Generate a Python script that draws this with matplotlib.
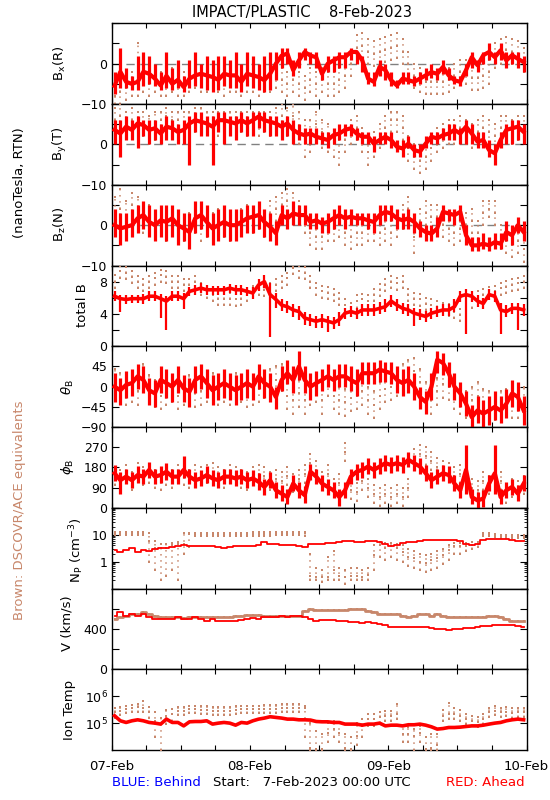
import numpy as np
import matplotlib
matplotlib.use("Agg")
import matplotlib.pyplot as plt
from matplotlib.ticker import FixedLocator, FixedFormatter, MultipleLocator, LogLocator, NullFormatter, NullLocator

# ---------------- data (hourly bins, 07-Feb 00:00 .. 10-Feb 00:00) ----------------
hours = np.arange(72) + 0.5
day_ticks = [0, 24, 48, 72]
day_labels = ["07-Feb", "08-Feb", "09-Feb", "10-Feb"]

# Bx (R)
bx_red = [-5.5,-2,-4.5,-5,-4.5,-2,-2.5,-3.7,-5.4,-3,-5,-4,
          -5.8,-3.7,-2.9,-2.5,-2.9,-3.3,-4,-2.5,-2.9,-2.9,-4.5,-2.5,
          -2.9,-3.3,-4.1,-2.5,0,2,2.5,-1.6,0.8,2.9,2,1.6,
          -2.5,0,0.8,1.6,1.6,2.9,2.9,0.8,-3.7,-4.5,-0.8,-1.6,
          -4.1,-5.4,-3.7,-4.1,-4.5,-3.7,-2.9,-2.1,-2.5,-0.8,-2.9,-4.1,
          -4.5,-1.6,1.6,-0.4,2.1,2.9,1.6,3.3,0.8,2.1,1.2,0.4]
bx_red_hi = [-2,4,-1,-3,2,3,2,0,-2,3,-1,1,
             -3,1,3,0,2,1,2,2,1,3,0,3,
             2,0,2,3,3,4,4,1,3,4,3,3,
             -1,2,2,3,3,4,3,2,-2,-2,1,0,
             -2,-4,-2,-2,-3,-2,-1,0,-1,1,-1,-3,
             -3,0,3,1,3,5,3,5,3,3,3,2]
bx_red_lo = [-7.5,-6,-6,-6.5,-6.5,-5.5,-5,-5.5,-6.5,-6,-6.5,-6,
             -7,-6,-5.5,-6,-6.5,-7,-6.5,-5.5,-6,-6,-7,-5.5,
             -6,-6.5,-7,-6.5,-4,-1,0,-3,-1,1,0,-1,
             -4,-2,-2,-1,-1,1,0,-2,-5,-5.5,-3,-4,
             -5.5,-6,-5,-5,-5.5,-5,-4,-3.5,-4,-2.5,-4,-5,
             -5.5,-3,-1,-2,0,1,0,1,-1,0,-1,-2]
bx_brn = [-8,-7,-6,-5,-5,-4,-5,-4,-5,-5,-4,-5,
          -5,-4,-3,-4,-4,-3,-4,-5,-4,-4,-5,-4,
          -4,-5,-4,-4,-3,-4,-5,-4,-5,-6,-4,-5,
          -4,-5,-5,-4,-3,0,4,4.5,3,2.5,3,3.5,
          4,4.5,3,0,-3,-4,-4.5,-4.5,-4.5,-4.5,-4,-3,
          -2,-2,-3.5,-3.5,-3,-2,2,3,3.5,3,2.5,1]
bx_brn_hi = [-5,-4,-3,-2,5,-1,-2,-1,-2,-2,-1,-2,
             -2,-1,0,-1,-1,0,-1,-2,-1,-1,-2,-1,
             -1,-2,-1,-1,0,-1,-2,-1,-2,-3,-1,-2,
             -1,-2,-2,-1,0,3,7,7.5,6,5.5,6,6.5,
             7,7.5,6,3,0,-1,-1.5,-1.5,-1.5,-1.5,-1,0,
             1,1,-0.5,-0.5,0,1,5,6,6.5,6,5.5,4]
bx_brn_lo = [-10,-10,-9,-8,-8,-7,-8,-7,-8,-8,-7,-8,
             -8,-7,-6,-7,-7,-6,-7,-8,-7,-7,-8,-7,
             -7,-8,-7,-7,-6,-7,-8,-7,-8,-9,-7,-8,
             -7,-8,-8,-7,-6,-3,1,1.5,0,-0.5,0,0.5,
             1,1.5,0,-3,-6,-7,-7.5,-7.5,-7.5,-7.5,-7,-6,
             -5,-5,-6.5,-6.5,-6,-5,-1,0,0.5,0,-0.5,-2]

# By (T)
by_red = [3.6,2.7,4.4,3.6,5.2,4.8,3.6,4.0,2.7,4.4,4.0,3.1,
          3.6,5.2,6.0,5.6,5.2,4.4,6.0,6.0,5.6,5.2,6.0,5.2,
          6.0,6.9,6.0,5.6,5.2,4.4,5.2,3.6,2.7,2.3,2.7,1.9,
          1.5,1.1,2.3,2.7,3.6,4.0,2.7,1.9,1.9,0.2,1.1,1.9,
          1.1,-0.6,-1.0,0.2,-1.4,-1.8,0.2,1.9,1.5,2.3,2.7,3.6,
          2.7,4.4,2.7,0.7,1.1,-1.4,-2.2,1.1,3.6,4.0,4.4,3.1]
by_red_hi = [6,6,7,6,7,6,6,6,5,7,6,5,
             6,7,8,8,7,7,8,8,7,7,8,7,
             8,8,8,7,7,6,7,6,5,4,4,4,
             3,3,4,5,5,5,4,3,3,2,3,3,
             3,1,1,2,0,0,2,3,3,4,5,5,
             4,6,5,3,3,1,0,3,5,6,6,5]
by_red_lo = [0,-3,1,1,-1,2,0,1,0,1,1,0,
             0,-5,3,2,2,-5,3,0,2,1,3,2,
             2,4,3,2,2,1,2,0,1,0,0,0,
             0,-1,0,1,2,2,1,0,0,-2,0,0,
             -1,-2,-3,-1,-3,-3,-1,0,0,1,1,1,
             0,0,0,-1,-1,-3,-5,-1,0,0,1,0]
by_brn = [6,7,5,6,5,5,4,5,6,7,6,6,
          5,6,6,7,6,6,5,5,6,5,6,5,
          6,5,6,5,6,7,5,7,4,2,3,5,
          3,2,0,-2,1,3,4,1,-2,0,2,4,
          6,6,4,-1,-3,-4,-3,-1,1,2,3,3,
          4,3,2,3,4,3,2,4,4,3,4,4]
by_brn_hi = [9,10,8,9,8,8,7,8,8,9,8,8,
             8,8,9,9,8,8,8,8,8,8,8,8,
             8,8,8,8,9,10,9,10,8,6,6,8,
             6,5,3,1,4,6,7,4,1,3,5,7,
             8,8,7,2,0,-1,0,2,4,5,6,6,
             7,6,5,6,7,6,5,7,7,6,7,7]
by_brn_lo = [3,4,2,3,2,2,0,1,3,3,2,3,
             2,3,3,4,3,2,2,2,3,2,3,2,
             3,2,3,2,3,4,2,3,0,-3,-2,1,
             -1,-2,-3,-5,-2,0,1,-2,-5,-3,-1,1,
             3,3,1,-4,-6,-7,-6,-4,-2,-1,0,0,
             1,0,-1,0,1,0,-1,1,1,0,1,1]

# Bz (N)
bz_red = [0,-0.8,-0.4,0,1.7,2.5,0.8,0,1.2,0.8,1.7,0,
          -0.8,-1.7,1.7,2.5,0.8,-0.8,0,0.8,0,0,0.8,1.7,
          2.1,2.5,0.8,-0.4,-2,2.5,1.7,2.9,2.5,2.5,0.8,1.2,
          0.4,0.8,1.7,2.5,1.7,2.1,1.7,1.7,1.2,0.8,2.5,3.3,
          2.9,1.7,1.2,1.7,0.8,-0.8,-1.7,-2.1,-0.8,3.3,2.9,2.5,
          3.3,-2.5,-5,-5,-4.6,-5,-4.2,-4.6,-1.7,-2.5,0,-1.7]
bz_red_hi = [4,3,3,4,5,6,5,4,5,5,5,4,
             3,3,6,6,5,3,4,5,4,4,4,5,
             5,6,4,3,1,5,4,6,5,5,3,3,
             2,3,4,5,4,4,3,3,3,3,5,5,
             5,4,3,4,3,1,0,0,2,5,4,4,
             5,0,-3,-3,-2,-3,-2,-2,1,0,2,1]
bz_red_lo = [-3,-5,-4,-3,-2,-1,-3,-4,-3,-4,-3,-5,
             -4,-6,-2,-1,-3,-5,-4,-3,-4,-4,-3,-2,
             -2,-1,-3,-4,-5,0,-1,0,0,0,-1,-1,
             -2,-2,-1,0,-1,0,0,0,-1,-2,0,1,
             1,-1,-1,-1,-2,-3,-4,-4,-3,1,1,0,
             1,-5,-6.5,-6.5,-6,-6.5,-6,-6,-4,-5,-2,-4]
bz_brn = [3,4,2,5,3,1,2,0,1,-1,1,0,
          -1,0,1,-1,0,0,1,0,-1,0,1,2,
          1,2,0,3,4,5,6,5,3,1,-2,-3,
          -3,-1,-1,0,-2,-3,-2,-2,-1,-1,-2,-1,
          -2,0,2,4,-3,1,3,2,2,0,-1,-2,
          -1,0,1,-2,3,4,3,-3,-4,-5,-4,-6]
bz_brn_hi = [7,9,6,8,7,5,5,3,4,2,4,3,
             2,3,4,2,3,3,4,3,2,3,4,5,
             4,5,3,6,7,8,9,8,6,4,1,0,
             0,2,2,3,1,0,1,1,2,2,1,2,
             1,3,5,7,0,4,6,5,5,3,2,1,
             2,3,4,1,6,6,6,0,-1,-2,-1,-3]
bz_brn_lo = [0,1,-1,2,0,-2,-1,-3,-2,-4,-2,-3,
             -4,-3,-2,-4,-3,-3,-2,-3,-4,-3,-2,-1,
             -2,-1,-3,0,1,2,3,2,0,-2,-5,-6,
             -6,-4,-4,-3,-5,-6,-5,-5,-4,-4,-5,-4,
             -5,-3,-1,1,-7,-2,0,-1,-1,-3,-4,-5,
             -4,-3,-2,-5,0,2,0,-6,-7,-8,-7,-9]

# total B
bt_red = [6.2,5.9,5.8,5.9,5.9,5.9,6.2,6.2,5.9,5.6,6.2,6.2,
          5.9,6.8,7.0,7.2,7.0,7.0,7.0,7.0,7.2,7.0,7.0,6.8,
          6.6,7.6,8.0,6.4,5.8,5.1,4.9,4.5,4.3,3.5,3.3,3.1,
          3.3,3.1,2.9,3.3,4.1,4.3,4.1,4.5,4.5,4.5,4.7,4.9,
          5.6,5.1,4.7,4.5,4.1,3.9,3.7,4.1,4.3,4.5,4.5,4.9,
          6.2,6.4,6.2,5.6,5.3,6.4,6.2,4.5,4.3,4.7,4.7,4.5]
bt_red_hi = [6.8,6.4,6.3,6.4,6.4,6.5,6.8,6.8,6.5,6.2,6.8,6.8,
             6.6,7.4,7.6,7.8,7.6,7.5,7.5,7.5,7.7,7.6,7.6,7.4,
             7.3,8.3,8.8,7.8,6.6,5.8,5.6,5.2,5.0,4.3,4.0,3.8,
             4.0,3.8,3.6,4.2,4.8,5.0,4.8,5.2,5.2,5.2,5.5,5.8,
             6.3,5.8,5.4,5.2,4.8,4.6,4.4,4.8,5.0,5.2,5.3,5.8,
             6.9,7.1,6.8,6.3,6.0,7.1,6.8,5.4,5.1,5.4,5.4,5.2]
bt_red_lo = [5.6,4.3,5.3,5.4,5.4,5.3,5.6,5.6,3.5,2.0,5.6,5.6,
             4.6,6.2,6.4,6.6,6.4,6.4,6.4,6.4,6.6,6.4,6.4,6.2,
             5.9,6.9,7.2,1.2,4.8,4.4,4.1,3.6,3.3,2.6,2.5,2.3,
             2.3,1.8,2.1,2.5,3.4,3.6,3.4,3.8,3.8,3.8,4.0,4.2,
             4.9,4.4,4.0,3.8,2.5,3.2,3.0,3.4,3.6,3.8,3.8,4.2,
             5.5,1.5,5.5,4.9,4.6,5.7,5.5,1.5,3.6,4.0,2.0,3.8]
bt_brn = [8.0,9.3,9.1,8.6,8.0,7.6,8.0,8.4,8.8,8.6,8.0,8.0,
          7.6,7.6,8.0,7.2,6.8,6.4,5.9,5.9,5.9,5.8,5.9,6.4,
          6.8,7.2,7.0,7.2,7.6,8.0,8.4,9.7,9.3,9.1,8.0,7.2,
          6.8,6.6,6.4,5.9,5.1,4.7,5.6,5.8,5.6,6.4,7.0,7.6,
          8.0,7.8,8.0,6.4,5.9,5.8,5.3,5.1,4.9,4.7,4.5,4.3,
          3.9,4.7,5.6,6.2,6.4,6.6,6.8,7.2,7.4,7.6,7.8,8.0]
bt_brn_hi = [8.8,9.9,9.8,9.3,8.7,8.3,8.7,9.1,9.5,9.3,8.7,8.7,
             8.3,8.3,8.7,7.9,7.5,7.1,6.6,6.6,6.6,6.5,6.6,7.1,
             7.5,7.9,7.7,7.9,8.3,8.7,9.1,9.9,9.9,9.8,8.7,7.9,
             7.5,7.3,7.1,6.6,5.8,5.4,6.3,6.5,6.3,7.1,7.7,8.3,
             8.7,8.5,8.7,7.1,6.6,6.5,6.0,5.8,5.6,5.4,5.2,5.0,
             4.6,5.4,6.3,6.9,7.1,7.3,7.5,7.9,8.1,8.3,8.5,8.7]
bt_brn_lo = [7.2,8.5,8.3,7.8,7.2,6.8,7.2,7.6,8.0,7.8,7.2,7.2,
             6.8,6.8,7.2,6.4,6.0,5.6,5.1,5.1,5.1,5.0,5.1,5.6,
             6.0,6.4,6.2,6.4,6.8,7.2,7.6,8.9,8.5,8.3,7.2,6.4,
             6.0,5.8,5.6,5.1,4.3,3.9,4.8,5.0,4.8,5.6,6.2,6.8,
             7.2,7.0,7.2,5.6,5.1,5.0,4.5,4.3,4.1,3.9,3.7,3.5,
             3.1,3.9,4.8,5.4,5.6,5.8,6.0,6.4,6.6,6.8,7.0,7.2]

# theta_B
th_red = [0,-8,4,8,23,15,-8,-15,15,8,0,15,
          -4,-11,15,23,8,-8,0,8,0,-8,0,8,
          0,23,8,0,-23,15,30,15,45,15,0,8,
          15,23,15,23,23,15,8,30,30,30,38,34,
          30,15,8,15,0,-23,-34,0,60,53,30,0,
          -15,-38,-68,-53,-60,-53,-45,-53,-38,-15,-23,-53]
th_red_hi = [30,20,35,40,50,45,20,15,45,40,30,45,
             25,20,45,50,40,25,30,40,30,25,30,40,
             30,50,40,30,0,45,60,45,80,45,30,35,
             40,50,40,50,50,45,40,55,55,55,60,55,
             55,45,40,45,30,0,-10,30,80,75,55,30,
             10,-10,-40,-20,-30,-20,-10,-20,-5,15,10,-20]
th_red_lo = [-35,-40,-25,-20,-5,-15,-40,-45,-15,-25,-35,-15,
             -35,-45,-15,-5,-25,-40,-30,-25,-30,-40,-30,-25,
             -30,-5,-25,-35,-50,-10,5,-15,15,-15,-30,-20,
             -10,0,-10,0,0,-10,-20,5,5,5,10,10,
             5,-15,-20,-15,-30,-50,-60,-30,30,25,0,-30,
             -45,-65,-90,-80,-90,-85,-75,-80,-70,-45,-55,-85]
th_brn = [10,0,-10,-5,-10,20,-5,-15,-20,-10,-5,-20,
          -10,-5,-15,-10,-5,0,-10,-5,-10,0,-5,-15,
          -10,-5,5,10,15,20,-20,-30,-15,-30,-10,-5,
          -30,10,-20,-30,-35,-25,-20,-10,-30,-40,-20,-5,
          0,10,20,30,35,10,-20,-30,-10,5,0,-20,
          -30,-40,-30,-20,-35,-40,-45,-40,-35,-40,-40,-30]
th_brn_hi = [40,30,20,25,20,50,25,15,10,20,25,10,
             20,25,15,20,25,30,20,25,20,30,25,15,
             20,25,35,40,45,50,10,0,15,0,20,25,
             0,40,10,0,-5,5,10,20,0,-10,10,25,
             30,40,50,60,65,40,10,0,20,35,30,10,
             0,-10,0,10,-5,-10,-15,-10,-5,-10,-10,0]
th_brn_lo = [-20,-30,-40,-35,-40,-10,-35,-45,-50,-40,-35,-50,
             -40,-35,-45,-40,-35,-30,-40,-35,-40,-30,-35,-45,
             -40,-35,-25,-20,-15,-10,-50,-60,-45,-60,-40,-35,
             -60,-20,-50,-60,-65,-55,-50,-40,-60,-70,-50,-35,
             -30,-20,-10,0,5,-20,-50,-60,-40,-25,-30,-50,
             -60,-70,-60,-50,-65,-70,-75,-70,-65,-70,-70,-60]

# phi_B
ph_red = [154,123,139,123,146,139,169,139,146,161,139,139,
          169,139,123,131,146,131,123,139,139,131,139,123,
          131,116,93,123,78,63,48,108,78,56,161,139,
          108,93,78,48,78,139,161,169,184,169,184,199,
          191,199,191,214,199,184,154,123,139,154,146,108,
          78,169,48,33,41,108,154,48,78,93,63,108]
ph_red_hi = [190,160,175,160,185,175,205,175,185,200,175,175,
             230,175,160,170,185,170,160,175,175,170,175,160,
             170,155,130,160,115,100,85,145,115,95,195,175,
             145,130,115,85,115,175,195,205,220,205,220,235,
             225,235,225,250,235,220,190,160,175,190,185,145,
             115,280,85,70,80,145,280,85,115,130,100,145]
ph_red_lo = [120,60,105,90,110,105,135,105,110,125,105,105,
             135,105,90,95,110,95,90,105,105,95,105,90,
             95,80,55,90,45,30,15,75,45,20,125,105,
             75,55,45,10,45,105,125,135,150,135,150,165,
             155,165,155,180,165,150,120,90,105,120,110,75,
             45,60,15,0,5,75,60,15,45,55,30,75]
ph_brn = [140,130,150,120,160,140,150,130,120,140,130,150,
          140,130,150,140,150,160,140,130,150,140,130,120,
          140,150,140,120,130,120,140,110,130,150,200,170,
          120,150,90,110,250,80,70,120,90,60,50,60,
          50,60,50,90,220,240,230,210,180,170,160,140,
          150,140,90,80,120,100,130,120,60,90,80,100]
ph_brn_hi = [180,170,190,160,200,180,190,170,160,180,170,190,
             180,170,190,180,190,200,180,170,190,180,170,160,
             180,190,180,160,170,160,180,150,170,190,240,210,
             160,190,130,150,290,120,110,160,130,100,90,100,
             90,100,90,130,260,280,270,250,220,210,200,180,
             190,180,130,120,160,140,170,160,100,130,120,140]
ph_brn_lo = [100,90,110,80,120,100,110,90,80,100,90,110,
             100,90,110,100,110,120,100,90,110,100,90,80,
             100,110,100,80,90,80,100,70,90,110,160,130,
             80,110,50,70,210,40,30,80,50,20,10,20,
             10,20,10,50,180,200,190,170,140,130,120,100,
             110,100,50,40,80,60,90,80,20,50,40,60]

# proton density (cm^-3)
np_red = [2.74,2.37,2.74,3.16,2.37,2.74,2.51,2.99,3.16,3.35,3.45,3.65,
          3.98,3.76,3.65,3.76,3.65,3.65,3.55,3.35,3.45,3.65,3.76,3.65,
          3.87,4.22,5.31,4.47,4.47,4.22,3.98,3.98,3.76,3.45,4.47,4.6,
          4.6,4.87,5.01,5.31,5.62,5.62,5.31,5.31,5.62,5.96,5.31,4.47,
          3.65,4.22,4.87,5.31,5.16,5.96,6.31,6.49,6.49,6.49,6.31,6.31,
          5.96,4.47,3.98,4.47,6.31,6.68,6.68,6.88,6.88,6.31,5.96,5.62]
np_brn = [11.5,11.5,11.5,11.5,11.5,11.5,6,3.16,3.16,3.35,3.98,4.47,
          4.47,10.6,10.6,10.6,10.6,10.6,10.6,10.6,10.6,10.6,10.6,10.6,
          11,11,11,11,11.5,11.5,11.5,11.5,11.5,11.5,0.3,0.28,
          0.26,0.28,0.5,0.3,0.28,0.3,0.3,0.28,0.32,1.78,4.2,3.16,
          3.65,3.16,2.37,1.54,1.33,1.0,0.87,1.15,1.33,1.78,2.74,3.65,
          3.65,3.65,4.22,4.47,10.6,10.6,9.2,8.7,8.7,8.7,8.7,8.7]
np_brn_lo = [10,10,10,10,10,10,1.0,0.5,0.2,0.3,0.5,0.2,
             2,3.5,9,9,9,9,9,9,9,9,9,9,
             9,9,9,9,9.5,9.5,9.5,9.5,9.5,9,0.2,0.2,
             0.18,0.2,0.2,0.2,0.15,0.2,0.2,0.2,0.2,0.5,1.5,1.2,
             1.5,1.2,1.0,0.7,0.6,0.5,0.4,0.5,0.6,0.8,1.2,2,
             2,2.5,3,3.5,9,9,8,7.5,7.5,7.5,7.5,7.5]
np_brn_hi = [13,13,13,13,13,13,12,6,4.5,4.5,5,5.5,
             12,12,12,12,12,12,12,12,12,12,12,12,
             13,13,13,13,13,13,13,13,13,13,2,0.6,
             0.5,1.5,2.5,0.6,0.5,0.6,0.6,0.5,0.6,4,5.5,5,
             5,4.5,4,3,2.5,2,1.8,2,2.5,3,4,5,
             5,5,5.5,5.5,12,12,10.5,10,10,10,10,10]

# speed (km/s)
v_red = [531,564,531,548,531,548,515,499,499,499,499,515,
         499,499,515,499,482,499,482,476,482,482,489,499,
         508,499,515,515,515,531,522,525,531,515,499,482,
         489,492,489,482,476,472,466,459,466,462,449,440,
         417,423,423,417,417,417,417,410,403,400,394,397,
         403,410,410,417,426,433,443,443,443,436,430,417]
v_brn = [499,515,531,548,548,564,548,531,515,515,522,515,
         508,515,515,515,522,515,515,522,522,531,531,538,
         541,538,531,531,528,528,531,525,531,581,594,590,
         587,587,587,587,587,594,597,597,581,564,548,548,
         548,548,531,522,531,548,548,531,548,531,522,515,
         515,515,515,515,522,531,525,515,499,482,476,482]

# ion temperature (units of 1e5 K)
t_red = [1.88,1.22,1.06,1.22,1.33,1.22,1.06,1.0,0.92,1.41,1.06,1.06,
         0.79,1.12,1.15,1.15,1.22,0.92,1.0,1.06,1.0,0.84,1.06,1.0,
         1.22,1.41,1.54,1.73,1.63,1.54,1.41,1.41,1.33,1.33,1.30,1.15,
         1.12,1.12,1.06,1.06,0.92,0.92,0.92,0.84,0.92,0.92,1.0,0.79,
         0.84,0.84,0.79,0.87,0.87,0.92,0.84,0.73,0.60,0.63,0.69,0.69,
         0.71,0.75,0.79,0.79,0.84,0.92,1.0,1.06,1.22,1.33,1.41,1.33]
t_brn = [2.51,2.90,3.35,3.55,3.87,3.55,2.51,1.22,0.92,1.88,2.17,2.90,
         2.90,3.35,3.35,3.16,3.16,2.90,2.90,2.90,2.90,3.16,3.35,3.35,
         3.35,3.35,3.35,3.35,3.35,3.55,3.55,3.55,3.55,3.55,0.122,0.112,
         0.106,0.447,0.60,0.447,0.122,0.106,0.335,0.79,1.41,1.41,1.63,1.88,
         1.88,2.17,0.387,0.387,0.335,0.447,0.106,0.122,0.15,1.88,2.17,2.17,
         1.88,1.41,1.22,1.06,1.41,2.51,2.90,2.51,2.66,2.37,2.51,2.51]
t_brn_lo = [1.5,2.0,2.4,2.5,2.7,2.5,1.5,0.3,0.1,0.9,1.2,2.0,
            2.0,2.4,2.4,2.2,2.2,2.0,2.0,2.0,2.0,2.2,2.4,2.4,
            2.4,2.4,2.4,2.4,2.4,2.5,2.5,2.5,2.5,0.3,0.1,0.1,
            0.1,0.2,0.3,0.2,0.1,0.1,0.15,0.3,0.8,0.8,1.0,1.2,
            1.2,1.4,0.2,0.2,0.1,0.2,0.1,0.1,0.1,1.2,1.4,1.4,
            1.2,0.9,0.8,0.7,0.9,1.7,2.0,1.7,1.8,1.6,1.7,1.7]
t_brn_hi = [3.5,4.0,4.5,4.7,5.0,6.5,4.0,2.5,1.5,3.0,3.3,4.0,
            4.0,4.5,4.5,4.3,4.3,4.0,4.0,4.0,4.0,4.3,4.5,4.5,
            4.5,4.5,4.7,4.7,4.7,5.0,5.0,5.0,5.0,4.5,1.0,0.5,
            0.4,1.0,1.2,1.0,0.4,0.3,1.0,1.4,2.2,2.2,2.5,2.8,
            2.8,5.0,0.8,0.7,0.6,0.8,0.3,0.4,0.4,3.0,5.5,3.5,
            3.0,2.2,1.9,1.7,2.2,3.8,4.3,3.8,4.0,3.6,3.8,3.8]

# ---------------- styling ----------------
RED = "#FF0000"
BROWN = "#C8876B"
plt.rcParams["font.family"] = ["DejaVu Sans"]
plt.rcParams["axes.unicode_minus"] = True

W_PX, H_PX = 550, 800
fig = plt.figure(figsize=(5.5, 8), dpi=100)
LEFT, RIGHT = 111.7, 526.5
TOP0, PH = 23.3, 80.75
FS = 9


def make_ax(i):
    b = 1 - (TOP0 + (i + 1) * PH) / H_PX
    ax = fig.add_axes([LEFT / W_PX, b, (RIGHT - LEFT) / W_PX, PH / H_PX])
    ax.set_xlim(0, 72)
    ax.xaxis.set_major_locator(FixedLocator(day_ticks))
    ax.xaxis.set_minor_locator(MultipleLocator(6))
    ax.xaxis.set_major_formatter(NullFormatter())
    ax.tick_params(axis="x", which="both", direction="in", top=True, bottom=True,
                   length=3.5, width=0.8)
    ax.tick_params(axis="y", which="major", direction="in", left=True, right=True,
                   length=5, width=0.8, labelsize=FS, pad=3)
    ax.tick_params(axis="y", which="minor", direction="in", left=True, right=True,
                   length=2.5, width=0.6)
    for s in ax.spines.values():
        s.set_linewidth(1.0)
    return ax


def set_yticks(ax, ticks, labels):
    ax.yaxis.set_major_locator(FixedLocator(ticks))
    ax.yaxis.set_major_formatter(FixedFormatter(labels))


def draw_scatter(ax, c, lo, hi, red=False, lw=2.3, clw=3.0):
    if red:
        ax.vlines(hours, lo, hi, color=RED, lw=lw, zorder=4)
        ax.plot(hours, c, color=RED, lw=clw, zorder=5)
    else:
        ax.vlines(hours, lo, hi, color=BROWN, lw=1.1, linestyles=(0, (1, 3)), zorder=2)
        for arr in (lo, c, hi):
            ax.plot(hours, arr, ls="none", marker="s", ms=1.7, mew=0, color=BROWN, zorder=3)


axes = [make_ax(i) for i in range(9)]

# B components
for ax, (rc, rlo, rhi, bc, blo, bhi) in zip(axes[:3], [
        (bx_red, bx_red_lo, bx_red_hi, bx_brn, bx_brn_lo, bx_brn_hi),
        (by_red, by_red_lo, by_red_hi, by_brn, by_brn_lo, by_brn_hi),
        (bz_red, bz_red_lo, bz_red_hi, bz_brn, bz_brn_lo, bz_brn_hi)]):
    ax.set_ylim(-10, 10)
    set_yticks(ax, [-10, -5, 0, 5, 10], ["\u221210", "", "0", "", ""])
    ax.axhline(0, color="#808080", lw=1.0, ls=(0, (6, 4)), zorder=1)
    draw_scatter(ax, bc, blo, bhi)
    draw_scatter(ax, rc, rlo, rhi, red=True)

# total B
ax = axes[3]
ax.set_ylim(0, 10)
set_yticks(ax, [0, 2, 4, 6, 8, 10], ["0", "", "4", "", "8", ""])
draw_scatter(ax, bt_brn, bt_brn_lo, bt_brn_hi)
draw_scatter(ax, bt_red, bt_red_lo, bt_red_hi, red=True, lw=1.6, clw=2.6)

# theta
ax = axes[4]
ax.set_ylim(-90, 90)
set_yticks(ax, [-90, -45, 0, 45, 90], ["\u221290", "\u221245", "0", "45", ""])
draw_scatter(ax, th_brn, th_brn_lo, th_brn_hi)
draw_scatter(ax, th_red, th_red_lo, th_red_hi, red=True)

# phi
ax = axes[5]
ax.set_ylim(0, 360)
set_yticks(ax, [0, 90, 180, 270, 360], ["0", "90", "180", "270", ""])
draw_scatter(ax, ph_brn, ph_brn_lo, ph_brn_hi)
draw_scatter(ax, ph_red, ph_red_lo, ph_red_hi, red=True)

# density
ax = axes[6]
ax.set_yscale("log")
ax.set_ylim(0.1, 100)
set_yticks(ax, [0.1, 1, 10, 100], ["", "1", "10", ""])
ax.yaxis.set_minor_locator(LogLocator(base=10, subs=np.arange(2, 10)))
ax.yaxis.set_minor_formatter(NullFormatter())
draw_scatter(ax, np_brn, np_brn_lo, np_brn_hi)
ax.plot(hours, np_red, color=RED, lw=1.3, zorder=5, drawstyle="steps-mid")

# speed
ax = axes[7]
ax.set_ylim(0, 800)
set_yticks(ax, [0, 200, 400, 600, 800], ["0", "", "400", "", ""])
ax.plot(hours, v_brn, color=BROWN, lw=2.0, zorder=2, drawstyle="steps-mid")
ax.plot(hours, v_brn, ls="none", marker="s", ms=1.8, mew=0, color=BROWN, zorder=3)
ax.plot(hours, v_red, color=RED, lw=1.3, zorder=5, drawstyle="steps-mid")

# ion temperature
ax = axes[8]
ax.set_yscale("log")
ax.set_ylim(1e4, 1e7)
set_yticks(ax, [1e5, 1e6], [r"$10^5$", r"$10^6$"])
ax.yaxis.set_minor_locator(NullLocator())
tb, tbl, tbh = (np.array(a) * 1e5 for a in (t_brn, t_brn_lo, t_brn_hi))
draw_scatter(ax, tb, tbl, tbh)
ax.plot(hours, np.array(t_red) * 1e5, color=RED, lw=2.6, zorder=5)

# bottom tick labels
axes[8].xaxis.set_major_formatter(FixedFormatter(day_labels))
axes[8].tick_params(axis="x", labelsize=FS + 0.5, pad=7)


# ---------------- text ----------------
def ftext(x, y, s, **kw):
    fig.text(x / W_PX, 1 - y / H_PX, s, **kw)


ftext(302, 12, "IMPACT/PLASTIC    8-Feb-2023", ha="center", va="center", fontsize=10.5)

ylabels = [
    (60, 63, r"B$_{\mathrm{x}}$(R)"),
    (60, 144, r"B$_{\mathrm{y}}$(T)"),
    (60, 224, r"B$_{\mathrm{z}}$(N)"),
    (83, 305, "total B"),
    (68, 387, r"$\theta_{\mathrm{B}}$"),
    (68, 467, r"$\phi_{\mathrm{B}}$"),
    (77, 550, r"N$_{\mathrm{P}}$ (cm$^{-3}$)"),
    (67, 623, "V (km/s)"),
    (70, 710, "Ion Temp"),
]
for x, y, s in ylabels:
    ftext(x, y, s, rotation=90, ha="center", va="center", fontsize=FS + 0.5)

ftext(20, 183, "(nanoTesla, RTN)", rotation=90, ha="center", va="center", fontsize=FS + 0.5)
ftext(20, 510, "Brown: DSCOVR/ACE equivalents", rotation=90, ha="center", va="center",
      fontsize=FS + 0.5, color=BROWN)

ftext(112, 783, "BLUE: Behind", ha="left", va="center", fontsize=FS + 0.5, color="#0000FF")
ftext(213, 783, "Start:   7-Feb-2023 00:00 UTC", ha="left", va="center", fontsize=FS + 0.5)
ftext(525, 783, "RED: Ahead", ha="right", va="center", fontsize=FS + 0.5, color=RED)

fig.savefig("out.png", dpi=100)
